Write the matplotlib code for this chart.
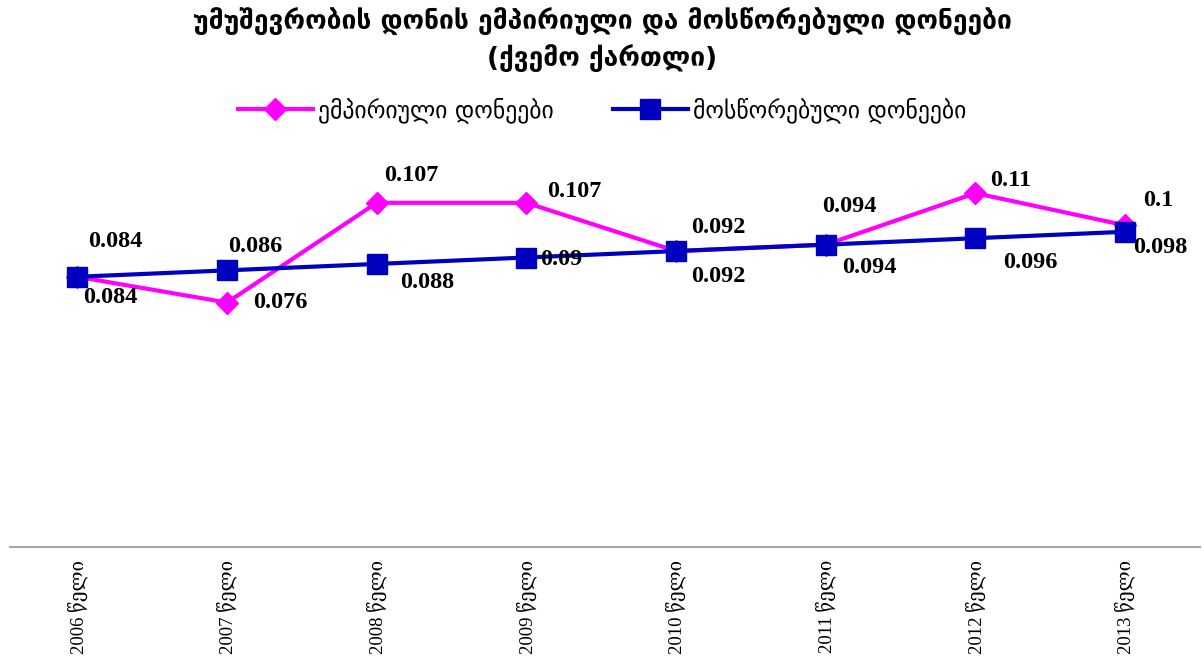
import matplotlib.pyplot as plt

plt.rcParams['font.family'] = ['Liberation Serif', 'DejaVu Serif', 'DejaVu Sans']

# data
years = ['2006', '2007', '2008', '2009', '2010', '2011', '2012', '2013']
tick_labels = [y + ' წელი' for y in years]
empirical = [0.084, 0.076, 0.107, 0.107, 0.092, 0.094, 0.11, 0.1]
smoothed = [0.084, 0.086, 0.088, 0.09, 0.092, 0.094, 0.096, 0.098]

title = 'უმუშევრობის დონის ემპირიული და მოსწორებული დონეები\n(ქვემო ქართლი)'
name_emp = 'ემპირიული დონეები'
name_smo = 'მოსწორებული დონეები'

# label offsets in pixels
emp_off = [(38, 35), (53, 0), (35, 27), (48, 11), (42, 24), (24, 38), (35, 13), (33, 25)]
smo_off = [(33, -21), (28, 24), (50, -19), (35, -2), (42, -25), (44, -23), (55, -24), (35, -16)]

fig = plt.figure(figsize=(12.04, 6.64), dpi=100)
ax = fig.add_axes([10/1204, 117/664, 1190/1204, 386/664])

x = list(range(len(years)))
ax.plot(x, empirical, color='#FF00FF', lw=3, marker='D', ms=11, label=name_emp, zorder=3)
ax.plot(x, smoothed, color='#0000BF', lw=3, marker='s', ms=15, label=name_smo, zorder=4)

for i in x:
    ax.annotate(str(empirical[i]), (i, empirical[i]), xytext=emp_off[i],
                textcoords='offset pixels', ha='center', va='center',
                fontsize=17.5, fontweight='bold', zorder=5)
    ax.annotate(str(smoothed[i]), (i, smoothed[i]), xytext=smo_off[i],
                textcoords='offset pixels', ha='center', va='center',
                fontsize=17.5, fontweight='bold', zorder=5)

ax.set_xlim(-0.45, 7.5)
ax.set_ylim(0, 0.12)
ax.set_yticks([])
ax.set_xticks(x)
ax.set_xticklabels(tick_labels, rotation=90, fontsize=13.5)
ax.tick_params(axis='x', length=0, pad=9)
for s in ['top', 'right', 'left']:
    ax.spines[s].set_visible(False)
ax.spines['bottom'].set_color('#A6A6A6')
ax.spines['bottom'].set_linewidth(1.5)

fig.text(0.5, 1 - 40/664, title, ha='center', va='center', fontsize=19,
         fontweight='bold', family=['DejaVu Sans'], linespacing=1.35)
fig.legend(loc='center', bbox_to_anchor=(0.5, 1 - 110/664), ncol=2, frameon=False,
           prop={'family': ['DejaVu Sans'], 'size': 17}, columnspacing=2.5,
           handlelength=3.2, handletextpad=0.2)

fig.savefig('out.png', dpi=100)
